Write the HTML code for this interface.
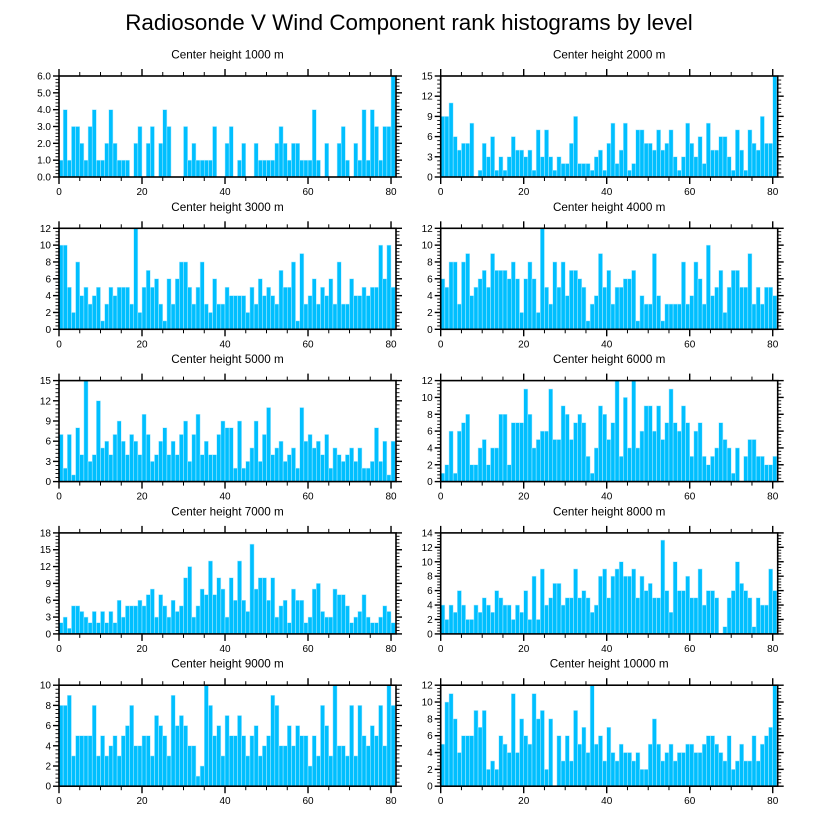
<!DOCTYPE html>
<html><head><meta charset="utf-8">
<style>
html,body{margin:0;padding:0;background:#fff;}
svg{display:block;font-family:"Liberation Sans",Arial,sans-serif;}
</style></head>
<body>
<svg id="chart" width="818" height="824" viewBox="0 0 818 824" xmlns="http://www.w3.org/2000/svg">
<text x="409" y="30" text-anchor="middle" font-size="22.4">Radiosonde V Wind Component rank histograms by level</text>
</svg>
<script>
const levels = ["1000","2000","3000","4000","5000","6000","7000","8000","9000","10000"];
const v1000 = [1,4,1,3,3,2,1,3,4,1,1,2,4,2,1,1,1,0,2,3,0,2,3,0,2,4,3,0,0,0,3,1,2,1,1,1,1,3,0,0,2,3,0,1,2,0,0,2,1,1,1,1,2,3,2,1,2,2,1,1,1,4,1,0,2,0,0,2,3,1,0,2,1,4,1,4,3,1,3,3,6];
const v2000 = [9,9,11,6,4,5,5,8,0,1,5,3,6,1,3,1,3,6,4,4,3,4,1,7,3,7,3,1,3,2,2,5,9,2,2,2,1,3,4,1,5,8,2,4,8,1,2,7,7,5,5,4,7,4,5,7,3,1,3,8,5,3,6,2,8,4,4,6,6,3,1,7,4,1,7,5,4,9,5,5,15];
const v3000 = [10,10,5,2,8,4,5,3,4,5,1,3,5,4,5,5,5,3,12,2,5,7,5,6,3,1,6,3,6,8,8,5,3,5,8,3,2,6,3,3,5,4,4,4,4,2,5,3,6,4,5,4,3,7,5,5,8,1,9,3,4,6,3,5,4,6,3,8,3,3,6,4,4,5,4,5,5,10,6,10,5];
const v4000 = [6,5,8,8,3,8,9,4,5,6,7,5,9,7,7,7,6,8,6,2,6,8,6,2,12,5,3,8,5,8,4,7,7,6,5,1,3,4,9,5,7,3,5,5,6,6,7,1,4,3,3,9,4,1,3,3,3,3,8,3,4,8,6,3,10,4,5,7,2,5,7,7,5,5,9,3,5,3,5,5,4];
const v5000 = [7,2,7,1,8,4,15,3,4,12,5,6,4,7,9,6,4,7,6,4,10,7,3,4,6,8,4,6,4,7,9,3,7,10,4,6,4,4,7,9,8,8,2,9,2,3,5,9,3,7,11,4,5,6,3,4,5,2,11,6,7,5,6,4,7,2,5,4,3,4,5,3,5,2,2,3,8,3,6,1,6];
const v6000 = [1,2,6,1,6,7,8,2,2,4,5,2,4,4,8,8,2,7,7,7,11,8,4,5,6,6,11,5,5,9,8,5,7,8,7,3,1,4,9,8,5,7,12,3,10,4,12,4,6,9,9,6,9,5,7,11,7,6,9,7,3,6,7,3,2,3,4,7,5,4,1,4,0,3,5,5,3,3,2,2,3];
const v7000 = [2,3,1,5,5,4,3,2,4,2,4,2,4,2,6,3,5,5,5,6,5,7,8,3,7,5,3,6,4,5,10,12,3,5,8,7,13,7,10,8,3,10,6,13,6,4,16,8,10,10,6,10,3,5,6,2,8,6,6,2,3,8,9,4,3,3,8,7,7,5,2,3,4,7,3,2,2,3,5,4,2];
const v8000 = [4,2,4,3,6,4,2,2,4,3,5,4,3,6,5,4,4,2,4,3,6,2,8,2,9,4,5,7,7,4,5,5,9,5,6,5,3,4,8,9,5,8,9,10,8,8,9,5,8,6,7,5,5,13,6,3,10,6,6,8,5,5,9,4,6,6,5,0,1,5,6,10,7,6,5,1,5,4,4,9,6];
const v9000 = [8,8,9,3,5,5,5,5,8,3,5,3,4,5,3,5,6,8,4,4,5,5,3,7,6,5,3,9,6,7,6,4,4,1,2,10,8,5,6,3,7,5,5,7,5,3,5,6,3,4,5,9,8,4,4,6,4,6,5,5,2,5,3,8,6,3,10,4,4,3,8,3,8,5,4,6,5,8,4,10,8];
const v10000 = [5,10,11,8,4,6,6,6,9,7,9,2,3,2,6,5,4,11,4,8,6,5,11,8,9,2,8,0,6,3,6,3,9,5,7,4,12,5,6,3,7,4,3,5,4,4,3,4,2,2,5,8,5,3,4,5,3,4,4,5,5,4,4,5,6,6,5,4,3,6,2,3,5,3,3,6,3,5,6,7,12];
const yMaxes = [6,15,12,12,15,12,18,14,10,12];
const ySteps = [1,3,2,2,3,2,3,2,2,2];
const xTicks = [0,20,40,60,80];
const allSeries = [v1000,v2000,v3000,v4000,v5000,v6000,v7000,v8000,v9000,v10000];

const NS = "http://www.w3.org/2000/svg";
const svg = document.getElementById("chart");
function mk(tag, attrs, parent){
  const e = document.createElementNS(NS, tag);
  for (const k in attrs) e.setAttribute(k, attrs[k]);
  (parent||svg).appendChild(e);
  return e;
}
const XMAX = 81.2;
const PW = 337, PH = 101;
for (let p = 0; p < 10; p++){
  const col = p % 2, row = Math.floor(p / 2);
  const left = col === 0 ? 59 : 440.7;
  const top = 76 + row * 152.3;
  const data = allSeries[p], ymax = yMaxes[p], ystep = ySteps[p];
  const xs = v => left + v / XMAX * PW;
  const ys = v => top + PH - v / ymax * PH;
  const g = mk("g", {});
  
  
  const t = mk("text", {x: left + PW/2, y: top - 17.5, "text-anchor":"middle", "font-size":"11.7"}, g);
  
  
  t.textContent = "Center height " + levels[p] + " m";
  for (let i = 0; i < data.length; i++){
    if (data[i] <= 0) continue;
    const r = mk("rect", {x: xs(i), y: ys(data[i]), width: xs(i+1) - xs(i), height: ys(0) - ys(data[i]), fill:"#00bfff", stroke:"#b8ecff", "stroke-width":"0.5"}, g);
    
    
  }
  const fr = mk("rect", {x:left, y:top, width:PW, height:PH, fill:"none", stroke:"#000", "stroke-width":"1.6"}, g);
  
  
  for (let v = 0; v <= 80; v += 5){
    const major = v % 20 === 0, L = major ? 7 : 4;
    mk("line", {x1:xs(v), x2:xs(v), y1:top+PH, y2:top+PH+L, stroke:"#000", "stroke-width": major?1.4:1}, g);
    mk("line", {x1:xs(v), x2:xs(v), y1:top, y2:top-L, stroke:"#000", "stroke-width": major?1.4:1}, g);
  }
  for (const v of xTicks){
    const tl = mk("text", {x:xs(v), y:top+PH+18, "text-anchor":"middle", "font-size":"10"}, g);
    
    
    tl.textContent = v;
  }
  const minor = ystep / 5;
  for (let k = 0; k * minor <= ymax + 1e-9; k++){
    const v = k * minor, major = k % 5 === 0, L = major ? 6 : 3.5;
    mk("line", {x1:left, x2:left-L, y1:ys(v), y2:ys(v), stroke:"#000", "stroke-width": major?1.4:0.9}, g);
    mk("line", {x1:left+PW, x2:left+PW+L, y1:ys(v), y2:ys(v), stroke:"#000", "stroke-width": major?1.4:0.9}, g);
    if (major){
      const yl = mk("text", {x:left-8, y:ys(v)+3.5, "text-anchor":"end", "font-size":"10"}, g);
      
      
      yl.textContent = ystep === 1 ? v.toFixed(1) : Math.round(v);
    }
  }
}
</script>
</body></html>
